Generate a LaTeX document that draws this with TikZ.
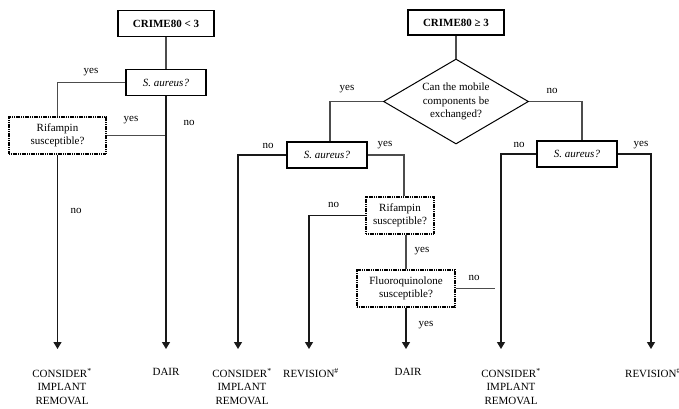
\documentclass[tikz,border=0pt]{standalone}
\usepackage{fontspec}
\setmainfont{Liberation Serif}
\usetikzlibrary{calc,arrows.meta,shapes.geometric}

\begin{document}
\begin{tikzpicture}[x=1pt,y=-1pt,
	every node/.style={font=\fontsize{11}{13.5}\selectfont},
	crime/.style={draw,line width=1.6pt,minimum width=96pt,minimum height=26pt,inner sep=0pt,font=\fontsize{11}{13.5}\selectfont\bfseries},
	query/.style={draw,line width=1.6pt,minimum width=80pt,minimum height=26pt,inner sep=0pt,font=\fontsize{11}{13.5}\selectfont\itshape},
	dotbox/.style={draw,line width=1.6pt,dash pattern=on 1.2pt off 0.6pt,align=center,inner sep=0pt,minimum height=37pt},
	link/.style={black!70,line width=1.1pt},
	arr/.style={black!90,line width=1.2pt,-{Triangle[width=8pt,length=7pt]}},
	ans/.style={inner sep=0pt},
	fin/.style={align=center,anchor=north,inner sep=0pt}]
			\useasboundingbox (0,0) rectangle (679,408);
			\coordinate (tips) at (0,349);
			\coordinate (tipB1) at (238,349);
			\coordinate (tipB2) at (309,349);
			\coordinate (tipC1) at (501,349);
			\coordinate (tipC2) at (651,349);
			\coordinate (stub) at (495,288.5);
			\node[crime] (lowA) at (166,23.5) {CRIME80 < 3};
			\node[query] (saurA) at (166,82.5) {S. aureus?};
			\node[dotbox,minimum width=97pt] (rifA) at (57.5,135.5) {Rifampin\\susceptible?};
			\node[crime,minimum height=25pt] (highB) at (456,22.5) {CRIME80 ≥ 3};
			\node[draw,diamond,line width=1pt,aspect=1.7,inner sep=0pt,minimum width=145pt,minimum height=85pt,align=center] (mob) at (456,101.5) {Can the mobile\\components be\\exchanged?};
			\node[query] (saurB) at (327,155) {S. aureus?};
			\node[dotbox,minimum width=68pt] (rifB) at (400,215.5) {Rifampin\\susceptible?};
			\node[dotbox,minimum width=98pt] (fluoB) at (406,288.5) {Fluoroquinolone\\susceptible?};
			\node[query] (saurC) at (577,154) {S. aureus?};
			\node[fin] (consA) at (62,368) {CONSIDER\textsuperscript{*}\\IMPLANT\\REMOVAL};
			\node[fin] (dairA) at (166,368) {DAIR};
			\node[fin] (consB) at (242,368) {CONSIDER\textsuperscript{*}\\IMPLANT\\REMOVAL};
			\node[fin] (revB) at (311,368) {REVISION\textsuperscript{\#}};
			\node[fin] (dairB) at (408,368) {DAIR};
			\node[fin] (consC) at (511,368) {CONSIDER\textsuperscript{*}\\IMPLANT\\REMOVAL};
			\node[fin] (revC) at (653,368) {REVISION\textsuperscript{\#}};
			\draw[link] (lowA) -- (saurA);
			\draw[link] (saurA.west) -| (rifA.north);
			\draw[link] (rifA.east) -- (rifA.east -| saurA.south);
			\draw[arr] (saurA.south) -- (saurA.south |- tips);
			\draw[arr] (rifA.south) -- (rifA.south |- tips);
			\draw[link] (highB) -- (mob);
			\draw[link] (mob.west) -| ([xshift=3pt]saurB.north);
			\draw[link] (mob.east) -| ([xshift=5pt]saurC.north);
			\draw[arr] (saurB.west) -| (tipB1);
			\draw[link] (saurB.east) -| ([xshift=4pt]rifB.north);
			\draw[arr] (rifB.west) -| (tipB2);
			\draw[link] (fluoB.north |- rifB.south) -- (fluoB.north);
			\draw[arr] (fluoB.south) -- (fluoB.south |- tips);
			\draw[link] (fluoB.east) -- (stub);
			\draw[arr] (saurC.west) -| (tipC1);
			\draw[arr] (saurC.east) -| (tipC2);
			\node[ans] (yA1) at (91,72) {yes};
			\node[ans] (yA2) at (131,120.5) {yes};
			\node[ans] (nA1) at (189,122.5) {no};
			\node[ans] (nA2) at (76,211) {no};
			\node[ans] (yB1) at (347,89.5) {yes};
			\node[ans] (nB1) at (268,145.5) {no};
			\node[ans] (yB2) at (385,145) {yes};
			\node[ans] (nB2) at (333.5,205) {no};
			\node[ans] (yB3) at (422,251.5) {yes};
			\node[ans] (nB3) at (474,277.5) {no};
			\node[ans] (yB4) at (426,325) {yes};
			\node[ans] (nC1) at (552,91) {no};
			\node[ans] (nC2) at (519,145) {no};
			\node[ans] (yC1) at (641,145) {yes};
			\end{tikzpicture}
\end{document}
